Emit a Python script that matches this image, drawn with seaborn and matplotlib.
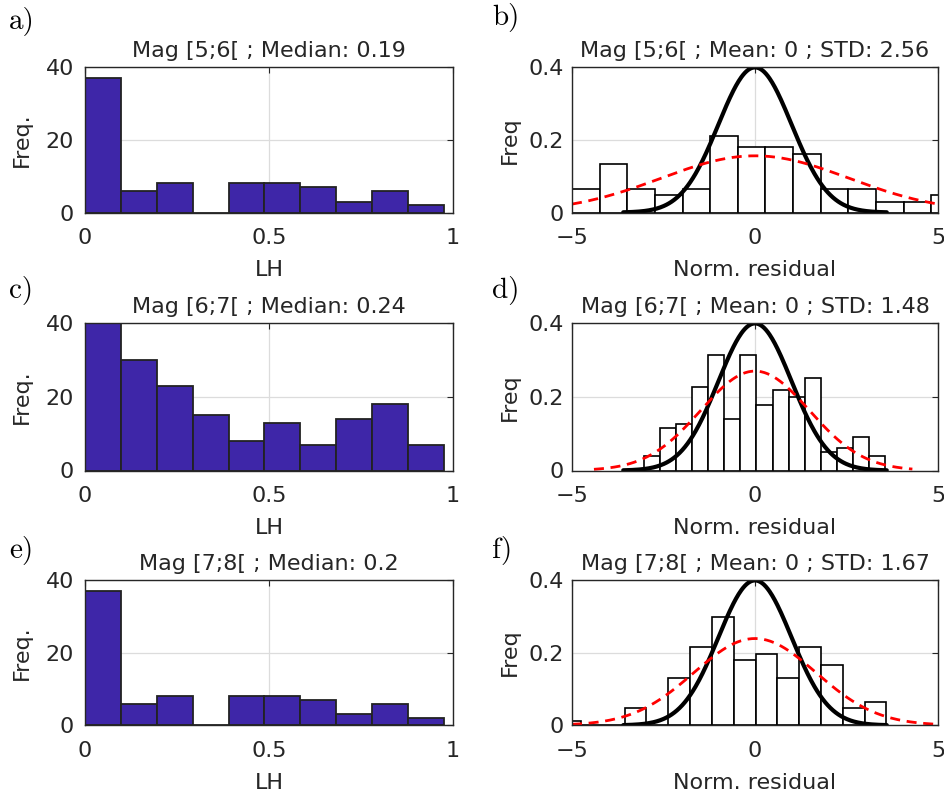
import numpy as np
import pandas as pd
import matplotlib
matplotlib.use("Agg")
import matplotlib.pyplot as plt
import seaborn as sns

# ---------------- data ----------------
lh_edges = np.linspace(0.0, 0.975, 11)
lh_counts_56 = [37, 6, 8, 0, 8, 8, 7, 3, 6, 2]
lh_counts_67 = [40, 30, 23, 15, 8, 13, 7, 14, 18, 7]
lh_counts_78 = [37, 6, 8, 0, 8, 8, 7, 3, 6, 2]
lh_titles = ["Mag [5;6[ ; Median: 0.19", "Mag [6;7[ ; Median: 0.24", "Mag [7;8[ ; Median: 0.2"]

res_start = [-5.0, -3.04, -5.35]
res_width = [0.755, 0.44, 0.596]
res_dens_56 = [0.065, 0.133, 0.065, 0.049, 0.065, 0.210, 0.181, 0.181, 0.160, 0.065, 0.065, 0.029, 0.029, 0.049]
res_dens_67 = [0.040, 0.116, 0.125, 0.226, 0.312, 0.140, 0.312, 0.177, 0.217, 0.200, 0.250, 0.051, 0.062, 0.092, 0.040]
res_dens_78 = [0.013, 0.0, 0.0, 0.049, 0.0, 0.131, 0.215, 0.297, 0.179, 0.195, 0.131, 0.215, 0.165, 0.048, 0.063]
res_std = [2.56, 1.48, 1.67]
res_fit_range = [(-5.0, 5.0), (-4.4, 4.3), (-5.0, 5.0)]
res_titles = ["Mag [5;6[ ; Mean: 0 ; STD: 2.56", "Mag [6;7[ ; Mean: 0 ; STD: 1.48", "Mag [7;8[ ; Mean: 0 ; STD: 1.67"]

left_letters = ["a)", "c)", "e)"]
right_letters = ["b)", "d)", "f)"]

# ---------------- style ----------------
sns.set_theme(style="white")
plt.rcParams["font.family"] = ["DejaVu Sans"]
TXT = "#262626"
plt.rcParams.update({
    "axes.edgecolor": TXT,
    "axes.linewidth": 1.0,
    "xtick.color": TXT,
    "ytick.color": TXT,
    "axes.labelcolor": TXT,
})

W, H = 945, 798
fig = plt.figure(figsize=(W / 100, H / 100), dpi=100)

rows_px = [(67, 212.5), (323, 470.5), (580, 725.3)]
left_x = (85, 453)
right_x = (572, 938)


def make_ax(xpx, ypx):
    x0, x1 = xpx
    t, b = ypx
    return fig.add_axes([x0 / W, 1 - b / H, (x1 - x0) / W, (b - t) / H])


def style_ax(ax):
    ax.grid(True, color="#dcdcdc", linewidth=0.9)
    ax.set_axisbelow(True)
    for s in ax.spines.values():
        s.set_visible(True)
        s.set_color(TXT)
        s.set_linewidth(1.0)
        s.set_zorder(5)
    ax.tick_params(direction="in", length=4, width=0.8, top=True, right=True,
                   labelsize=16, colors=TXT)
    ax.tick_params(axis="x", pad=11)


parula_blue = "#3E26A8"
lh_all = [lh_counts_56, lh_counts_67, lh_counts_78]
res_all = [res_dens_56, res_dens_67, res_dens_78]

for i in range(3):
    # ----- left: LH histogram -----
    ax = make_ax(left_x, rows_px[i])
    centers = 0.5 * (lh_edges[:-1] + lh_edges[1:])
    df = pd.DataFrame({"LH": centers, "count": np.asarray(lh_all[i], dtype=float)})
    sns.histplot(data=df, x="LH", weights="count", bins=list(lh_edges), ax=ax,
                 color=parula_blue, edgecolor="#222222", linewidth=1.3, alpha=1.0,
                 zorder=3)
    ax.set_xlim(0, 1)
    ax.set_ylim(0, 40)
    ax.set_xticks([0, 0.5, 1])
    ax.set_xticklabels(["0", "0.5", "1"])
    ax.set_yticks([0, 20, 40])
    style_ax(ax)
    ax.tick_params(axis="y", pad=8)
    ax.set_title(lh_titles[i], fontsize=16, color=TXT, pad=7)
    ax.set_xlabel("LH", fontsize=16, labelpad=9)
    ax.set_ylabel("Freq.", fontsize=16, labelpad=10)

    # ----- right: normalised residuals -----
    ax = make_ax(right_x, rows_px[i])
    n = len(res_all[i])
    edges = res_start[i] + res_width[i] * np.arange(n + 1)
    ctr = 0.5 * (edges[:-1] + edges[1:])
    dfr = pd.DataFrame({"res": ctr, "dens": np.asarray(res_all[i], dtype=float)})
    sns.histplot(data=dfr, x="res", weights="dens", bins=list(edges), ax=ax,
                 color="white", edgecolor="black", linewidth=1.2, alpha=1.0,
                 zorder=3)
    xs = np.linspace(-3.6, 3.6, 300)
    sns.lineplot(x=xs, y=np.exp(-xs ** 2 / 2) / np.sqrt(2 * np.pi), ax=ax,
                 color="black", linewidth=3.0, zorder=4)
    lo, hi = res_fit_range[i]
    xr = np.linspace(lo, hi, 300)
    sd = res_std[i]
    sns.lineplot(x=xr, y=np.exp(-xr ** 2 / (2 * sd ** 2)) / (sd * np.sqrt(2 * np.pi)),
                 ax=ax, color="#ff0000", linewidth=2.0, linestyle=(0, (3.6, 2.4)), zorder=4)
    ax.set_xlim(-5, 5)
    ax.set_ylim(0, 0.4)
    ax.set_xticks([-5, 0, 5])
    ax.set_yticks([0, 0.2, 0.4])
    ax.set_yticklabels(["0", "0.2", "0.4"])
    style_ax(ax)
    ax.tick_params(axis="y", pad=6)
    ax.set_title(res_titles[i], fontsize=16, color=TXT, pad=7)
    ax.set_xlabel("Norm. residual", fontsize=16, labelpad=9)
    ax.set_ylabel("Freq", fontsize=16, labelpad=6)

left_base = [29, 298, 558]
right_base = [25, 298, 558]
for i in range(3):
    fig.text(9 / W, 1 - left_base[i] / H, left_letters[i], family="cmr10",
             fontsize=21, va="baseline", ha="left", color="black")
    fig.text(492 / W, 1 - right_base[i] / H, right_letters[i], family="cmr10",
             fontsize=21, va="baseline", ha="left", color="black")

fig.savefig("out.png", dpi=100)
